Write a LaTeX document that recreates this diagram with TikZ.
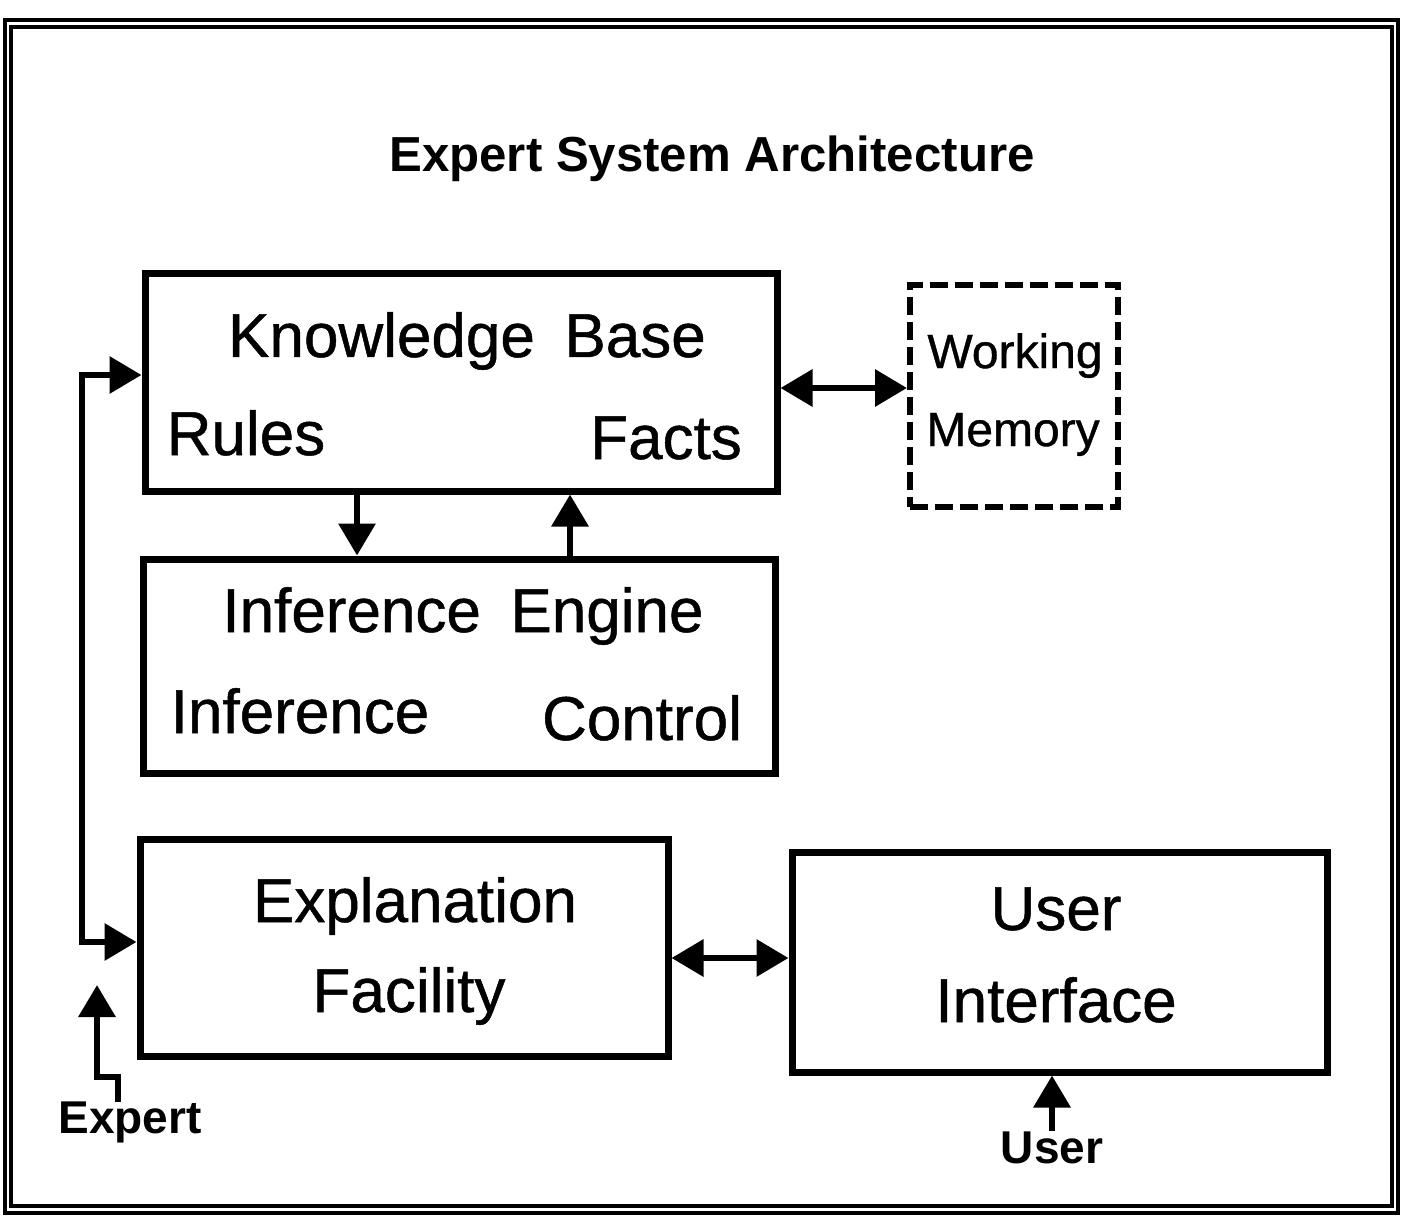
\documentclass[tikz,border=0pt]{standalone}
\usepackage{fontspec}
\setmainfont{Liberation Sans}
\newfontfamily\boxfont[FakeBold=0.8]{Liberation Sans}
\usetikzlibrary{arrows.meta,positioning}

\tikzset{
  blockbox/.style={draw, line width=3.5pt, inner sep=0pt},
  memorybox/.style={draw, line width=3pt, dash pattern=on 9pt off 3.5pt, inner sep=0pt},
  boxtext/.style={font=\boxfont\fontsize{31}{36}\selectfont, inner sep=0pt, anchor=base},
  smalltext/.style={font=\boxfont\fontsize{24}{28}\selectfont, inner sep=0pt, anchor=base},
  sourcetext/.style={font=\bfseries\fontsize{23}{28}\selectfont, inner sep=0pt, anchor=base},
  link/.style={line width=3.2pt, line join=miter, -{Triangle[length=16pt,width=18pt]}},
  twoway/.style={line width=3.2pt, line join=miter, {Triangle[length=16pt,width=18pt]}-{Triangle[length=16pt,width=18pt]}},
}

\begin{document}
\begin{tikzpicture}[x=0.5pt,y=-0.5pt]
\useasboundingbox (0,0) rectangle (1401,1219);

% Frame
\draw[line width=1.6pt] (5,20) rectangle (1398,1213);
\draw[line width=1.6pt] (11,27) rectangle (1392,1206);

% Title
\node[font=\bfseries\fontsize{24.6}{30}\selectfont, inner sep=0pt, anchor=base] (title) at (712,172) {Expert System Architecture};

% Boxes
\node[blockbox, minimum width=316pt, minimum height=108.5pt] (kb) at (461,382.5) {};
\node[memorybox, minimum width=104pt, minimum height=111pt] (wm) at (1014,396) {};
\node[blockbox, minimum width=316pt, minimum height=107pt] (ie) at (459,666) {};
\node[blockbox, minimum width=264pt, minimum height=108.5pt] (expl) at (404,947.5) {};
\node[blockbox, minimum width=267.5pt, minimum height=110pt] (ui) at (1059.5,962) {};

% Box texts
\node[boxtext] (kbName) at (467,357) {Knowledge\hspace{0.2em} Base};
\node[boxtext] (rules) at (246,455) {Rules};
\node[boxtext] (facts) at (666,459) {Facts};
\node[smalltext] (working) at (1015,368) {Working};
\node[smalltext] (memory) at (1013,446) {Memory};
\node[boxtext] (ieName) at (463,632) {Inference\hspace{0.2em} Engine};
\node[boxtext] (inference) at (300,733) {Inference};
\node[boxtext] (control) at (642,740) {Control};
\node[boxtext] (explName) at (415,922) {Explanation};
\node[boxtext] (facility) at (409,1012) {Facility};
\node[boxtext] (uiName) at (1056,930) {User};
\node[boxtext] (interface) at (1056,1022) {Interface};

% Sources
\node[sourcetext] (expert) at (130,1133) {Expert};
\node[sourcetext] (user) at (1052,1163) {User};

% Connectors
\coordinate (busTop) at (82,375);
\coordinate (busBot) at (82,942);
\draw[twoway] (kb.west |- busTop) -- (busTop) -- (busBot) -- (expl.west |- busBot);

\coordinate (downX) at (357,0);
\coordinate (upX) at (570,0);
\draw[link] (kb.south -| downX) -- (ie.north -| downX);
\draw[link] (ie.north -| upX) -- (kb.south -| upX);

\draw[twoway] ([yshift=-2.75pt]kb.east) -- ([yshift=-2.75pt]kb.east -| wm.west);
\draw[twoway] ([yshift=-5.25pt]expl.east) -- ([yshift=-5.25pt]expl.east -| ui.west);

\coordinate (expertStart) at (118,1102);
\coordinate (expertBend) at (97,1077);
\coordinate (expertTip) at (97,985);
\draw[link] (expertStart) |- (expertBend) -- (expertTip);

\draw[link] (user.north) -- (user.north |- ui.south);
\end{tikzpicture}
\end{document}
